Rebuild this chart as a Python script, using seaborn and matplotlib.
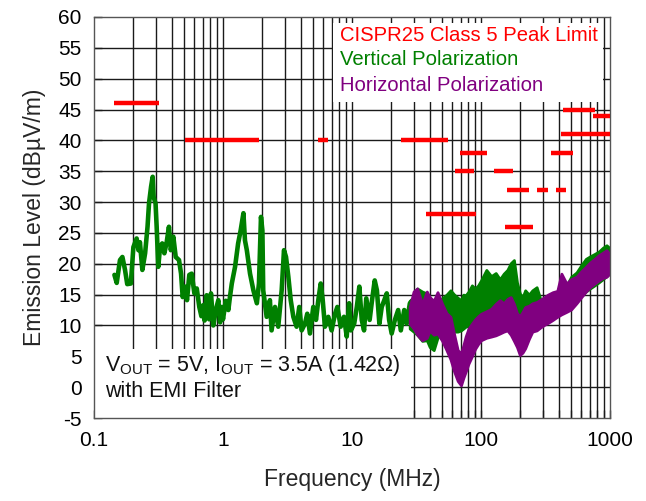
import numpy as np
import pandas as pd
import matplotlib
matplotlib.use("Agg")
import matplotlib.pyplot as plt
from matplotlib.patches import Rectangle
from matplotlib.ticker import FixedLocator, FixedFormatter, NullFormatter
import seaborn as sns

# ---- CISPR25 Class 5 peak limit segments (MHz, dBuV/m) ----
limit_start = [0.143, 0.51, 5.45, 24.0, 69.0, 63.0, 37.5, 126.0, 159.0, 270.0, 381.0, 153.0, 349.0, 417.0, 430.0, 734.0]
limit_stop = [0.32, 1.9, 6.5, 55.0, 111.0, 88.0, 91.0, 177.0, 234.0, 333.0, 456.0, 251.0, 514.0, 1000.0, 770.0, 1000.0]
limit_level = [46, 40, 40, 40, 38, 35, 28, 35, 32, 32, 32, 26, 38, 41, 45, 44]

# ---- Vertical polarization, 150 kHz to 30 MHz (single trace) ----
vert_lf_freq = [0.144, 0.150, 0.159, 0.166, 0.174, 0.181, 0.193, 0.202, 0.214, 0.221,
                0.227, 0.237, 0.249, 0.260, 0.267, 0.277, 0.285, 0.290, 0.300, 0.306,
                0.315, 0.325, 0.338, 0.351, 0.366, 0.381, 0.394, 0.412, 0.430, 0.456,
                0.473, 0.487, 0.507, 0.526, 0.548, 0.572, 0.600, 0.626, 0.655, 0.68,
                0.704, 0.72, 0.747, 0.78, 0.807, 0.841, 0.88, 0.92, 0.95, 0.977,
                1.0, 1.05, 1.10, 1.13, 1.17, 1.24, 1.31, 1.37, 1.44, 1.48,
                1.53, 1.62, 1.72, 1.83, 1.90, 1.97, 2.02, 2.05, 2.18, 2.31,
                2.38, 2.53, 2.68, 2.85, 2.97, 3.08, 3.21, 3.35, 3.51, 3.72,
                3.90, 4.07, 4.32, 4.50, 4.72, 5.01, 5.26, 5.48, 5.72, 5.93,
                6.17, 6.55, 6.95, 7.39, 7.70, 8.17, 8.67, 9.1, 9.5, 9.8,
                10.4, 10.9, 11.4, 11.9, 12.4, 12.9, 13.7, 14.3, 15.0, 15.6,
                16.3, 17.0, 17.8, 18.6, 19.4, 20.3, 21.5, 22.8, 23.9, 25.4,
                26.5, 28.1, 29.5]
vert_lf_db = [18.2, 16.9, 20.6, 21.1, 19.0, 16.7, 16.8, 22.7, 24.1, 22.2,
              23.5, 19.0, 21.7, 26.0, 29.8, 32.5, 34.1, 30.8, 29.8, 26.0,
              19.5, 22.7, 23.3, 21.7, 23.5, 26.0, 22.2, 24.4, 21.1, 20.6,
              18.4, 14.6, 16.3, 14.1, 18.2, 18.4, 15.2, 16.0, 13.0, 11.5,
              13.3, 10.8, 14.9, 11.0, 15.2, 10.0, 12.5, 14.1, 10.5, 13.0,
              11.0, 14.0, 12.5, 14.5, 16.8, 19.5, 23.3, 25.4, 28.2, 23.8,
              22.2, 18.4, 15.7, 13.6, 16.8, 27.6, 25.4, 15.7, 11.4, 14.1,
              9.2, 13.0, 9.8, 15.7, 22.2, 21.1, 17.9, 14.1, 11.4, 9.8,
              13.0, 9.2, 10.3, 11.9, 8.7, 13.0, 10.9, 14.1, 16.8, 14.1,
              9.8, 11.4, 9.2, 11.9, 13.0, 9.8, 11.4, 8.2, 13.6, 9.2,
              10.3, 13.0, 16.3, 10.9, 9.2, 14.4, 10.9, 14.1, 17.3, 15.7,
              10.3, 13.0, 14.1, 15.2, 10.9, 8.7, 10.9, 12.5, 9.2, 12.5,
              10.3, 13.6, 14.1]

# ---- 30 MHz to 1 GHz: min / max envelopes of both polarizations ----
hf_freq = [28, 30, 32, 35, 38, 40, 43, 46, 50, 54, 58, 62, 66, 70, 73, 76, 80, 85, 90, 95,
           100, 110, 120, 130, 140, 150, 160, 170, 180, 190, 200, 210, 220, 235, 250, 270,
           290, 310, 330, 360, 390, 420, 460, 500, 550, 600, 650, 700, 760, 820, 880, 940, 1000]
vert_hf_hi = [14.0, 14.5, 16.0, 15.5, 15.2, 14.5, 13.0, 14.0, 14.4, 15.0, 15.7, 15.0, 14.5, 14.1,
              15.0, 14.9, 15.5, 16.5, 16.0, 16.5, 17.3, 19.0, 18.0, 18.5, 17.5, 18.4, 19.0, 20.1,
              20.6, 17.0, 15.2, 14.6, 15.7, 15.0, 15.7, 16.2, 14.1, 14.5, 14.6, 14.9, 15.2, 15.8,
              16.5, 17.9, 18.6, 19.8, 20.8, 21.2, 21.6, 22.0, 22.6, 23.0, 22.5]
vert_hf_lo = [9.5, 9.0, 8.5, 7.5, 7.6, 6.5, 6.0, 8.0, 9.0, 9.5, 9.2, 9.0, 9.0, 9.2,
              9.5, 9.8, 10.0, 10.0, 10.3, 10.5, 10.5, 10.7, 11.0, 11.0, 11.2, 11.5, 11.8, 12.0,
              12.0, 11.0, 10.5, 10.0, 10.0, 10.0, 10.5, 11.0, 10.5, 10.5, 11.0, 11.5, 12.0, 12.5,
              13.0, 13.5, 14.0, 15.0, 15.5, 16.0, 16.5, 17.0, 17.5, 18.0, 18.5]
horz_hf_hi = [13.0, 15.5, 16.0, 13.5, 15.5, 14.6, 14.0, 15.4, 13.5, 12.0, 11.4, 8.5, 6.0, 5.5,
              6.8, 8.2, 9.5, 10.3, 11.0, 11.5, 11.9, 12.3, 12.7, 13.5, 14.1, 13.6, 14.3, 14.6,
              13.5, 12.0, 11.5, 12.2, 13.0, 13.2, 13.6, 13.8, 14.2, 14.6, 15.0, 15.4, 15.6, 18.4,
              16.8, 17.5, 17.9, 18.8, 19.5, 20.2, 20.8, 21.4, 21.8, 22.2, 21.5]
horz_hf_lo = [10.3, 9.5, 8.5, 7.6, 8.0, 9.2, 8.5, 8.7, 7.5, 6.0, 4.5, 2.5, 1.0, 0.3,
              1.5, 2.5, 3.8, 5.0, 6.2, 7.0, 7.6, 8.0, 8.2, 8.4, 8.7, 9.0, 9.2, 8.5,
              7.5, 6.5, 5.2, 5.6, 6.3, 7.8, 9.0, 9.2, 9.7, 10.1, 10.4, 10.9, 11.4, 11.8,
              12.2, 12.6, 13.6, 14.6, 15.5, 16.2, 16.8, 17.3, 17.7, 17.9, 18.5]

# ---- Axis labels and legend text ----
x_ticks = [0.1, 1, 10, 100, 1000]
x_tick_labels = ["0.1", "1", "10", "100", "1000"]
y_ticks = list(range(-5, 61, 5))
legend_names = ["CISPR25 Class 5 Peak Limit", "Vertical Polarization", "Horizontal Polarization"]
legend_colors = ["#FF0000", "#008000", "#800080"]

sns.set_theme(style="white")
plt.rcParams["font.family"] = ["Liberation Sans", "DejaVu Sans"]
plt.rcParams["mathtext.fontset"] = "custom"
plt.rcParams["mathtext.rm"] = "Liberation Sans"

RED, GREEN, PURPLE = legend_colors

fig = plt.figure(figsize=(6.46, 5.01), dpi=100)
ax = fig.add_axes([94 / 646, 1 - 418 / 501, 516 / 646, 401 / 501])
ax.set_xscale("log")
ax.set_xlim(0.1, 1000)
ax.set_ylim(-5, 60)

# grid drawn under the text boxes, ticks stay on top
grid_kw = dict(color="#1a1a1a", lw=1.0, zorder=0.6)
for v in y_ticks[1:-1]:
    ax.axhline(v, **grid_kw)
for dec in [0.1, 1, 10, 100]:
    for m in range(1, 10):
        f = m * dec
        if 0.1 < f < 1000:
            ax.axvline(f, **grid_kw)

# limit lines
ax.hlines(limit_level, limit_start, limit_stop, colors=RED, lw=3.2, zorder=3,
          capstyle="butt")

# vertical polarization: low-frequency trace
lf = pd.DataFrame({"freq": vert_lf_freq, "level": vert_lf_db})
sns.lineplot(data=lf, x="freq", y="level", color=GREEN, lw=3.3, estimator=None,
             ax=ax, zorder=2)

# 30 MHz - 1 GHz bands
ax.fill_between(hf_freq, vert_hf_lo, vert_hf_hi, color=GREEN, lw=2.0, edgecolor=GREEN, zorder=2)
ax.fill_between(hf_freq, horz_hf_lo, horz_hf_hi, color=PURPLE, lw=2.0, edgecolor=PURPLE, zorder=2.1)

# legend panel
ax.add_patch(Rectangle((0.463, 0.788), 0.523, 0.197, transform=ax.transAxes,
                       facecolor="white", edgecolor="none", zorder=1))
for name, col, yy in zip(legend_names, legend_colors, [0.955, 0.893, 0.830]):
    ax.text(0.477, yy, name, color=col, fontsize=14.6, va="center", ha="left",
            transform=ax.transAxes, zorder=4)

# operating-condition panel
ax.add_patch(Rectangle((0.0, 0.0), 0.614, 0.172, transform=ax.transAxes,
                       facecolor="white", edgecolor="none", zorder=1))
ax.text(0.021, 0.132, r"V$_{\mathregular{OUT}}$ = 5V, I$_{\mathregular{OUT}}$ = 3.5A (1.42Ω)",
        fontsize=15.5, va="center", ha="left", transform=ax.transAxes, zorder=4, color="#111111")
ax.text(0.021, 0.067, "with EMI Filter", fontsize=15.5, va="center", ha="left",
        transform=ax.transAxes, zorder=4, color="#111111")

ax.xaxis.set_major_locator(FixedLocator(x_ticks))
ax.xaxis.set_major_formatter(FixedFormatter(x_tick_labels))
ax.xaxis.set_minor_formatter(NullFormatter())
ax.set_yticks(y_ticks)
ax.set_yticklabels([str(v) for v in y_ticks])
ax.tick_params(axis="both", which="both", direction="in", colors="#333333",
               labelcolor="black", labelsize=15, bottom=True, left=True)
ax.tick_params(axis="both", which="major", length=6, width=1, pad=9)
ax.tick_params(axis="x", which="minor", length=6, width=1)
for s in ax.spines.values():
    s.set_color("#555555")
    s.set_linewidth(1.0)

ax.set_xlabel("Frequency (MHz)", fontsize=16.5, labelpad=13)
ax.set_ylabel("Emission Level (dBµV/m)", fontsize=16.5, labelpad=9)

fig.savefig("out.png", dpi=100)
